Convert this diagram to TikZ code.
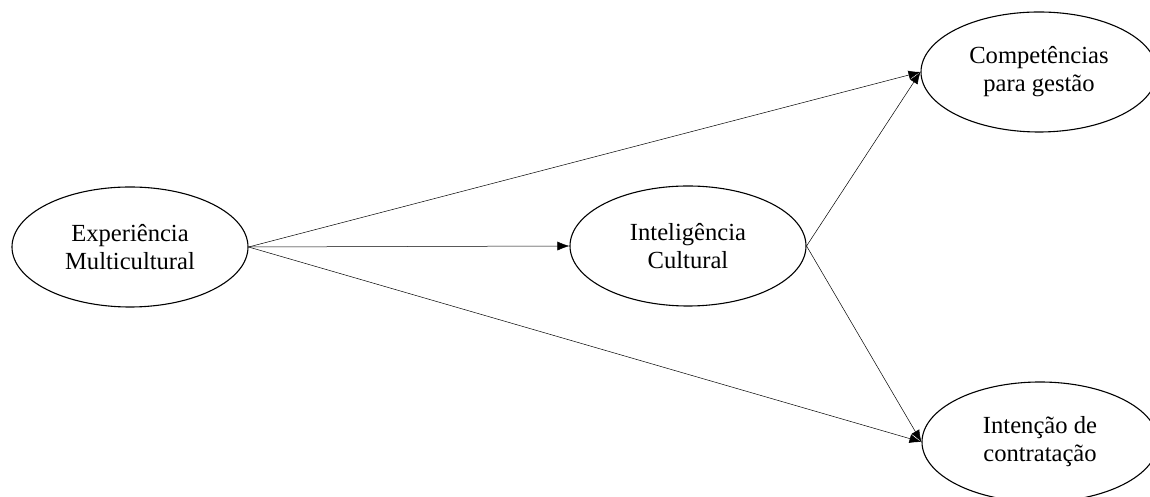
\documentclass[tikz,border=0pt]{standalone}
\usepackage{fontspec}
\setmainfont{Liberation Serif}
\usetikzlibrary{shapes.geometric,arrows.meta}

\begin{document}
\begin{tikzpicture}[x=1pt,y=1pt,
    construct/.style={draw,ellipse,line width=1.1pt,minimum width=236pt,minimum height=120pt,
        align=center,font=\fontsize{24.6}{28}\selectfont},
    path/.style={line width=0.5pt,-{Latex[length=12pt,width=9pt]}}]

\useasboundingbox (0,0) rectangle (1150,497);

%constructs
\node[construct] (exp)   at (130,250) {Experiência\\Multicultural};
\node[construct] (icult) at (688,251) {Inteligência\\Cultural};
\node[construct] (comp)  at (1039,425) {Competências\\para gestão};
\node[construct] (int)   at (1040,55) {Intenção de\\contratação};

%draw arrows
\draw[path] (exp.east)   -- (icult.west);
\draw[path] (exp.east)   -- (comp.west);
\draw[path] (exp.east)   -- (int.west);
\draw[path] (icult.east) -- (comp.west);
\draw[path] (icult.east) -- (int.west);

\end{tikzpicture}
\end{document}
